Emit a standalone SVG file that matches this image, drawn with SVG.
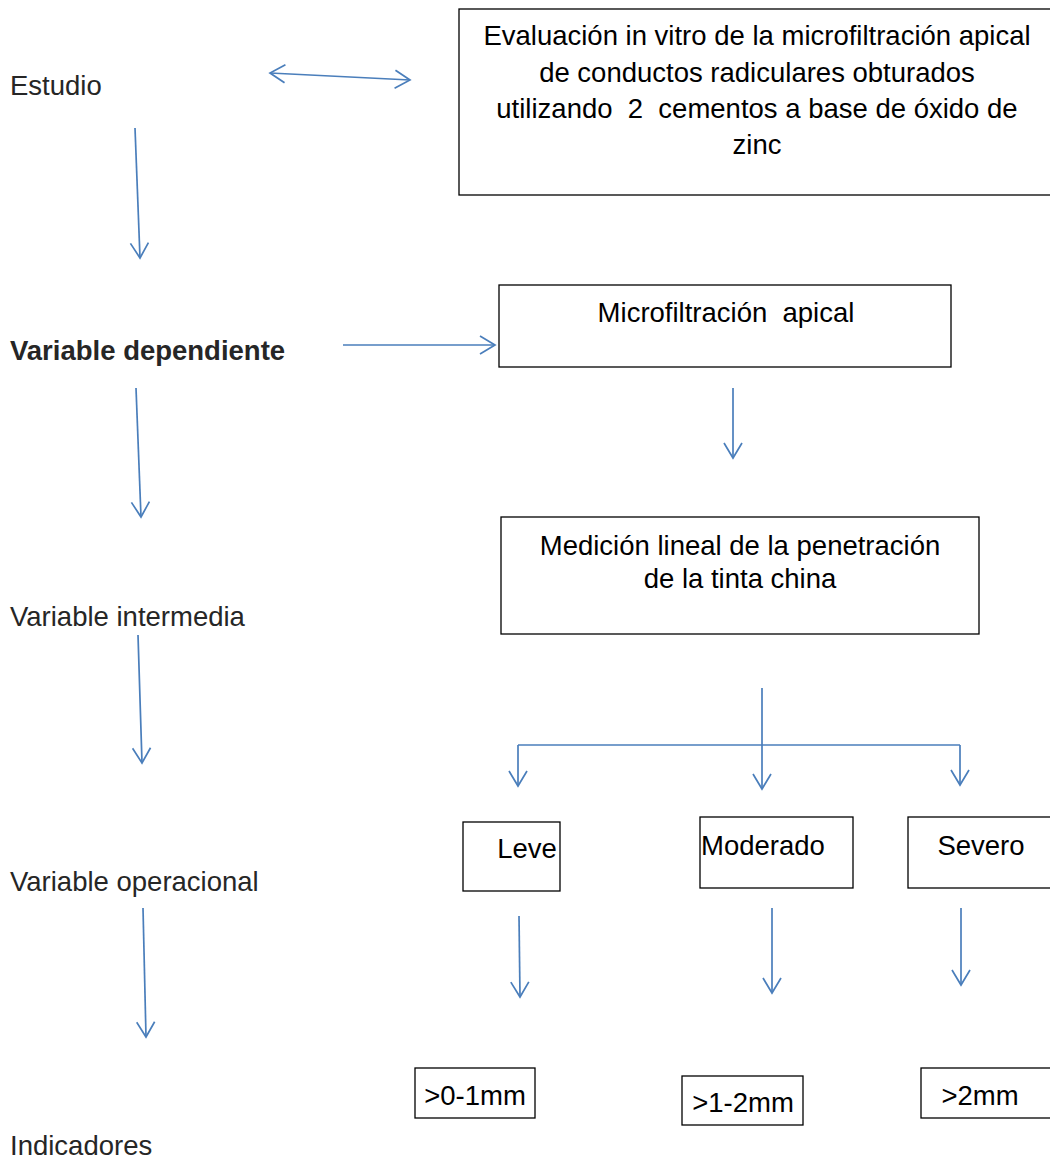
<svg xmlns="http://www.w3.org/2000/svg" width="1050" height="1162" viewBox="0 0 1050 1162">
<defs>
<marker id="ah" viewBox="0 0 18 20" refX="16" refY="10" markerWidth="18" markerHeight="20" markerUnits="userSpaceOnUse" orient="auto-start-reverse">
<path d="M1,1 L16,10 L1,19" fill="none" stroke="#4a7ebb" stroke-width="1.7"/>
</marker>
<style>
.lbl{font-family:"Liberation Sans",Arial,sans-serif;font-size:27.5px;fill:#262626}
.bt{font-family:"Liberation Sans",Arial,sans-serif;font-size:27.5px;fill:#000;text-anchor:middle}
.box{fill:#fff;stroke:#000;stroke-width:1.3}
.c{fill:none;stroke:#4a7ebb;stroke-width:1.7}
.ca{fill:none;stroke:#4a7ebb;stroke-width:1.7;marker-end:url(#ah)}
</style>
</defs>
<rect width="1050" height="1162" fill="#fff"/>
<g id="labels">
<text class="lbl" x="10" y="95">Estudio</text>
<text class="lbl" x="10" y="360" font-weight="bold">Variable dependiente</text>
<text class="lbl" x="10" y="626">Variable intermedia</text>
<text class="lbl" x="10" y="891">Variable operacional</text>
<text class="lbl" x="10" y="1155">Indicadores</text>
</g>
<g id="n-estudio">
<rect class="box" x="459" y="9" width="592" height="186"/>
<text class="bt" x="757" y="45">Evaluación in vitro de la microfiltración apical</text>
<text class="bt" x="757" y="82">de conductos radiculares obturados</text>
<text class="bt" x="757" y="118" xml:space="preserve">utilizando  2  cementos a base de óxido de</text>
<text class="bt" x="757" y="154">zinc</text>
</g>
<g id="n-micro">
<rect class="box" x="499" y="285" width="452" height="82"/>
<text class="bt" x="726" y="322" xml:space="preserve">Microfiltración  apical</text>
</g>
<g id="n-medicion">
<rect class="box" x="501" y="517" width="478" height="117"/>
<text class="bt" x="740" y="555">Medición lineal de la penetración</text>
<text class="bt" x="740" y="588">de la tinta china</text>
</g>
<g id="n-leve">
<rect class="box" x="463" y="822" width="97" height="69"/>
<text class="bt" x="527" y="858">Leve</text>
</g>
<g id="n-moderado">
<rect class="box" x="700" y="817" width="153" height="71"/>
<text class="bt" x="763" y="855">Moderado</text>
</g>
<g id="n-severo">
<rect class="box" x="908" y="817" width="143" height="71"/>
<text class="bt" x="981" y="855">Severo</text>
</g>
<g id="n-i1">
<rect class="box" x="415" y="1068" width="120" height="50"/>
<text class="bt" x="475" y="1105">&gt;0-1mm</text>
</g>
<g id="n-i2">
<rect class="box" x="682" y="1076" width="121" height="49"/>
<text class="bt" x="743" y="1112">&gt;1-2mm</text>
</g>
<g id="n-i3">
<rect class="box" x="921" y="1068" width="130" height="50"/>
<text class="bt" x="980" y="1105">&gt;2mm</text>
</g>
<g id="connectors">
<line class="ca" x1="270" y1="73" x2="410" y2="80" marker-start="url(#ah)"/>
<line class="ca" x1="135" y1="128" x2="140" y2="258"/>
<line class="ca" x1="343" y1="345" x2="495" y2="345"/>
<line class="ca" x1="136" y1="388" x2="141" y2="517"/>
<line class="ca" x1="733" y1="388" x2="733" y2="458"/>
<line class="ca" x1="138" y1="635" x2="142" y2="763"/>
<line class="ca" x1="762" y1="688" x2="762" y2="789"/>
<polyline class="ca" points="518,745 518,786"/>
<line class="c" x1="518" y1="745" x2="960" y2="745"/>
<polyline class="ca" points="960,745 960,785"/>
<line class="ca" x1="143" y1="908" x2="146" y2="1037"/>
<line class="ca" x1="519" y1="916" x2="520" y2="997"/>
<line class="ca" x1="772" y1="908" x2="772" y2="993"/>
<line class="ca" x1="961" y1="908" x2="961" y2="985"/>
</g>
</svg>
